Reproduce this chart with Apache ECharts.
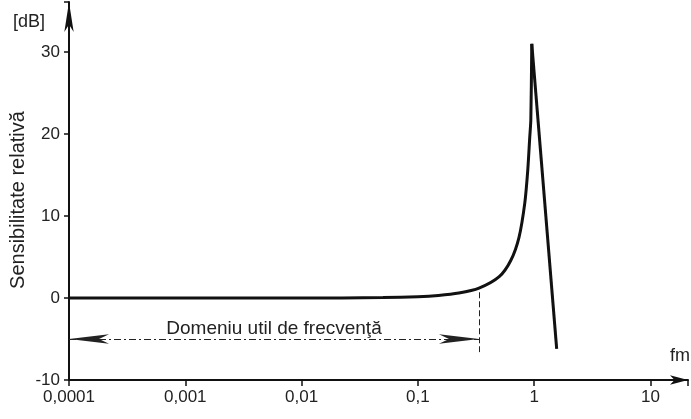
<!DOCTYPE html>
<html>
<head>
<meta charset="utf-8">
<script src="https://cdn.jsdelivr.net/npm/echarts@6/dist/echarts.min.js"></script>
<style>
  html, body { margin: 0; padding: 0; background: #fff; }
  #chart { width: 691px; height: 419px; }
</style>
</head>
<body>
<div id="chart"></div>
<script>
// Relative sensitivity of a sensor versus frequency ratio f/m (log scale)
const freqRise = [0.0001, 0.001, 0.01, 0.05, 0.1, 0.15, 0.225, 0.335, 0.5, 0.63, 0.74, 0.83, 0.88, 0.915, 0.935, 0.953];
const dbRise   = [0, 0, 0, 0.05, 0.15, 0.3, 0.6, 1.2, 2.6, 4.6, 7.4, 11.6, 15.6, 19.6, 21.7, 31];
const freqFall = [0.953, 1.56];
const dbFall   = [31, -6.2];

// Useful frequency range (double arrow) and its upper limit
const rangeStart = 0.0001;
const rangeEnd = 0.335;
const rangeLevel = -5;
const rangeLabel = 'Domeniu util de frecvenţă';

const yTicks = [-10, 0, 10, 20, 30];
const xTicks = [0.0001, 0.001, 0.01, 0.1, 1, 10];

const FONT = 'Liberation Sans';
const INK = '#111';
const TEXT = '#222';

const chart = echarts.init(document.getElementById('chart'));
const pair = (xs, ys) => xs.map((x, i) => [x, ys[i]]);
const isTick = (v, list) => list.some(t => Math.abs(t - v) < 1e-9 * Math.max(1, Math.abs(t)));

chart.setOption({
  animation: false,
  backgroundColor: '#fff',
  grid: { left: 69, right: 1, top: 2, bottom: 39 },
  xAxis: {
    type: 'log',
    logBase: 10,
    min: 0.0001,
    max: 21,
    axisLine: { show: true, onZero: false, symbol: ['none', 'arrow'], symbolSize: [7, 18], lineStyle: { color: INK, width: 2 } },
    axisTick: { show: true, inside: false, length: 6, lineStyle: { color: INK, width: 1.5 } },
    axisLabel: {
      margin: 9, fontFamily: FONT, fontSize: 17, color: TEXT,
      formatter: v => isTick(v, xTicks) ? String(+v.toPrecision(6)).replace('.', ',') : ''
    },
    splitLine: { show: false },
    minorTick: { show: false }
  },
  yAxis: {
    type: 'value',
    min: -10,
    max: 36.1,
    interval: 10,
    axisLine: { show: true, onZero: false, symbol: ['none', 'arrow'], symbolSize: [7, 30], lineStyle: { color: INK, width: 2 } },
    axisTick: { show: true, inside: false, length: 5, lineStyle: { color: INK, width: 1.5 } },
    axisLabel: {
      margin: 9, fontFamily: FONT, fontSize: 17, color: TEXT,
      formatter: v => isTick(v, yTicks) ? String(v) : ''
    },
    splitLine: { show: false }
  },
  series: [
    {
      type: 'line',
      data: pair(freqRise, dbRise),
      smooth: 0.25,
      showSymbol: false,
      lineStyle: { color: INK, width: 3 },
      markLine: {
        silent: true,
        symbol: ['none', 'none'],
        lineStyle: { color: '#222', width: 1, type: [7, 3, 2, 3] },
        label: { show: false },
        data: [
          [
            { coord: [rangeStart, rangeLevel], symbol: 'arrow', symbolSize: [7, 40] },
            { coord: [rangeEnd, rangeLevel], symbol: 'arrow', symbolSize: [7, 40],
              label: { show: true, position: 'insideMiddleTop', formatter: rangeLabel, distance: 1,
                       fontFamily: FONT, fontSize: 19, color: TEXT } }
          ],
          [
            { coord: [rangeEnd, 0.7], lineStyle: { type: [6, 3], width: 1 } },
            { coord: [rangeEnd, -6.6] }
          ]
        ]
      }
    },
    {
      type: 'line',
      data: pair(freqFall, dbFall),
      showSymbol: false,
      lineStyle: { color: INK, width: 3 }
    }
  ],
  graphic: [
    { type: 'text', left: 13, top: 13, style: { text: '[dB]', fontFamily: FONT, fontSize: 18, fill: TEXT } },
    { type: 'text', x: 18, y: 200, rotation: Math.PI / 2, originX: 0, originY: 0,
      style: { text: 'Sensibilitate relativă', fontFamily: FONT, fontSize: 20, fill: TEXT,
               align: 'center', verticalAlign: 'middle' } },
    { type: 'text', left: 670, top: 347, style: { text: 'fm', fontFamily: FONT, fontSize: 18, fill: TEXT } }
  ]
});
</script>
</body>
</html>
